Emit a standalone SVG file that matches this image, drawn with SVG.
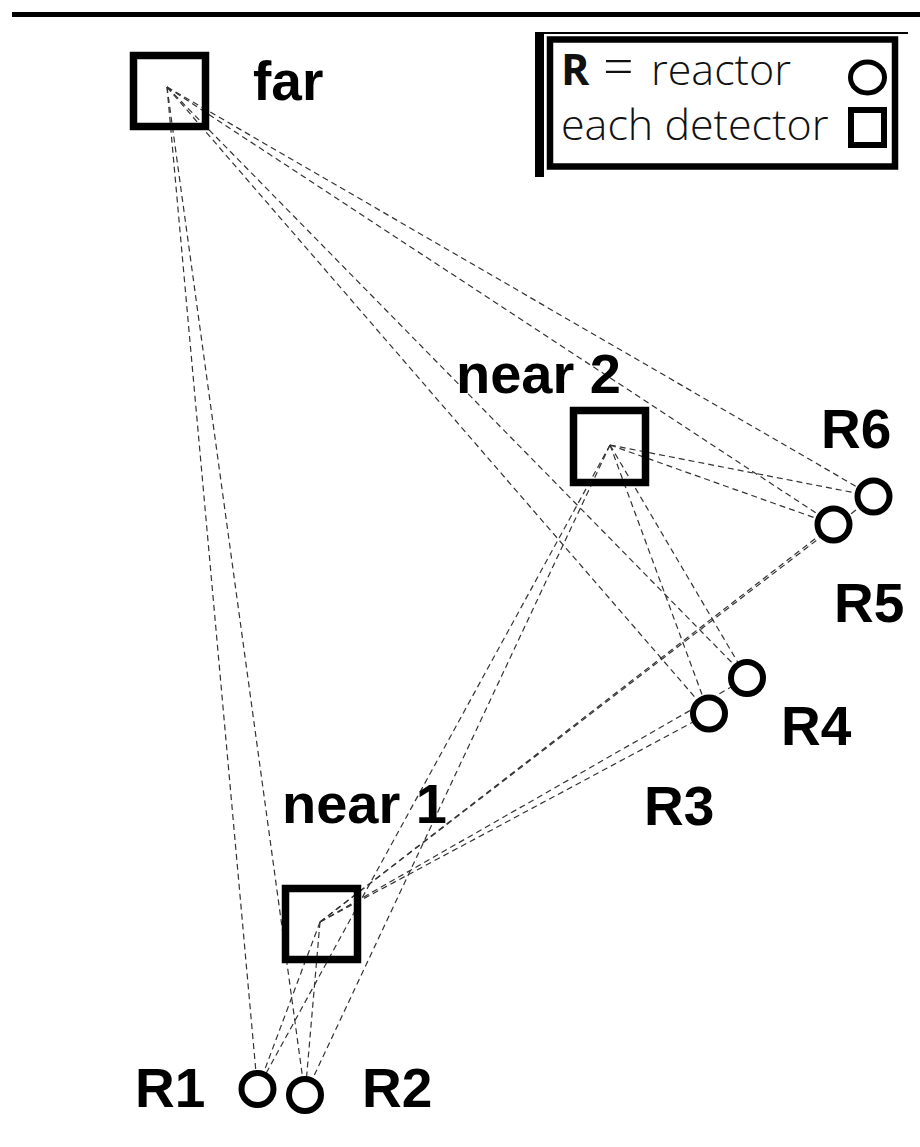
<svg xmlns="http://www.w3.org/2000/svg" width="920" height="1147" viewBox="0 0 920 1147">
<style>
.det{fill:none;stroke:#000;stroke-width:7.5}
.rea{fill:#fff;stroke:#000;stroke-width:6}
.lbl{font-family:"Liberation Sans",Arial,sans-serif;font-weight:bold;font-size:55px;fill:#000}
.big{font-size:56px}
.leg{font-family:"Open Sans","DejaVu Sans",sans-serif;font-size:43px;font-weight:300;fill:#111}
#connectors line{stroke:#333;stroke-width:1.2;stroke-dasharray:6 4;fill:none}
</style>
<rect width="920" height="1147" fill="#fff"/>
<line x1="12" y1="14.5" x2="920" y2="14.5" stroke="#000" stroke-width="5"/>
<g id="legend">
<rect x="535" y="32" width="9" height="145" fill="#000"/>
<line x1="535" y1="33" x2="908" y2="33" stroke="#000" stroke-width="2"/>
<rect x="550" y="39.5" width="345" height="127" fill="#fff" stroke="#000" stroke-width="6.5"/>
<text class="leg" y="85"><tspan x="561" font-weight="bold">R</tspan><tspan x="603" font-size="54">=</tspan><tspan x="651">reactor</tspan></text>
<text class="leg" x="561" y="140">each detector</text>
<ellipse cx="867.5" cy="77.5" rx="17" ry="15.5" fill="none" stroke="#000" stroke-width="5"/>
<rect x="851" y="110" width="33" height="35" fill="none" stroke="#000" stroke-width="6"/>
</g>
<g id="connectors">
<line x1="167" y1="87" x2="257.5" y2="1089"/>
<line x1="167" y1="87" x2="305" y2="1095"/>
<line x1="167" y1="87" x2="709" y2="713.5"/>
<line x1="167" y1="87" x2="747" y2="678"/>
<line x1="167" y1="87" x2="833.5" y2="524.5"/>
<line x1="167" y1="87" x2="873.5" y2="496.5"/>
<line x1="610" y1="445" x2="257.5" y2="1089"/>
<line x1="610" y1="445" x2="305" y2="1095"/>
<line x1="610" y1="445" x2="709" y2="713.5"/>
<line x1="610" y1="445" x2="747" y2="678"/>
<line x1="610" y1="445" x2="833.5" y2="524.5"/>
<line x1="610" y1="445" x2="873.5" y2="496.5"/>
<line x1="320" y1="922" x2="257.5" y2="1089"/>
<line x1="320" y1="922" x2="305" y2="1095"/>
<line x1="320" y1="922" x2="709" y2="713.5"/>
<line x1="320" y1="922" x2="747" y2="678"/>
<line x1="320" y1="922" x2="833.5" y2="524.5"/>
<line x1="320" y1="922" x2="873.5" y2="496.5"/>
</g>
<g id="far"><rect class="det" x="133.5" y="55.5" width="72" height="71"/><text class="lbl" x="253" y="100">far</text></g>
<g id="near2"><rect class="det" x="573.5" y="410.5" width="72" height="72"/><text class="lbl big" x="456" y="393">near 2</text></g>
<g id="near1"><rect class="det" x="285.5" y="888.5" width="72" height="71"/><text class="lbl big" x="282" y="823">near 1</text></g>
<g id="R1"><circle class="rea" cx="257.5" cy="1089" r="16"/><text class="lbl" x="135" y="1107">R1</text></g>
<g id="R2"><circle class="rea" cx="305" cy="1095" r="16"/><text class="lbl" x="362" y="1107">R2</text></g>
<g id="R3"><circle class="rea" cx="709" cy="713.5" r="16"/><text class="lbl" x="644" y="825">R3</text></g>
<g id="R4"><circle class="rea" cx="747" cy="678" r="16"/><text class="lbl" x="781" y="745">R4</text></g>
<g id="R5"><circle class="rea" cx="833.5" cy="524.5" r="16"/><text class="lbl" x="834" y="622">R5</text></g>
<g id="R6"><circle class="rea" cx="873.5" cy="496.5" r="16"/><text class="lbl" x="821" y="448">R6</text></g>
</svg>
